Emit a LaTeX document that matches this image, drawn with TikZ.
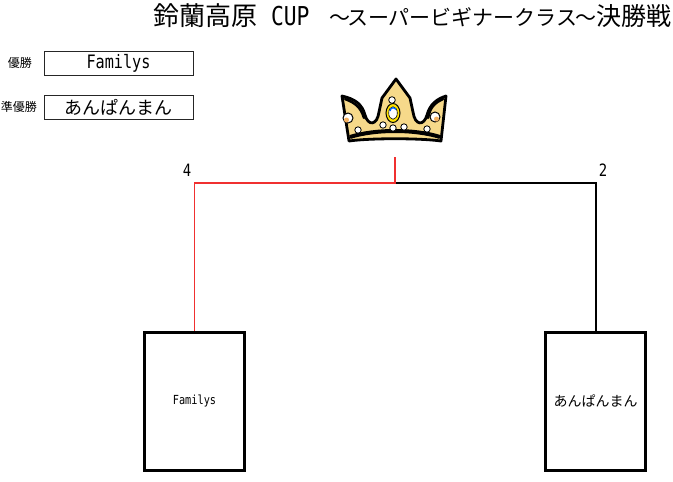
\documentclass[tikz,border=0pt]{standalone}
\usepackage{fontspec}
\newfontfamily\cjk{Noto Sans CJK JP}
\newfontfamily\gmono[FakeStretch=0.82]{DejaVu Sans Mono}
\definecolor{crownY}{HTML}{F6D98A}
\definecolor{jewelO}{HTML}{F4B060}
\definecolor{redline}{HTML}{F03030}
\tikzset{
  txt/.style={inner sep=0pt, outer sep=0pt},
  topbox/.style={draw=black!85, line width=1pt, minimum width=149pt, minimum height=24pt, inner sep=0pt},
  teambox/.style={draw=black, line width=3pt, minimum width=100pt, minimum height=138pt, inner sep=0pt},
  jewel/.style={fill=white, draw=black, line width=0.8pt},
  blackline/.style={draw=black, line width=2pt},
  redconn/.style={draw=redline, line width=1.4pt}
}
\begin{document}
\begin{tikzpicture}[x=1pt,y=-1pt]
\useasboundingbox (0,0) rectangle (673,482);
% title
\node[txt, anchor=base west, font=\cjk\fontsize{26}{26}\selectfont] (t1) at (153,25) {鈴蘭高原};
\node[txt, anchor=base west, font=\gmono\fontsize{26}{26}\selectfont] (t2) at (271,25) {CUP};
\node[txt, anchor=base west, font=\cjk\fontsize{21}{21}\selectfont] (t3) at (329,25) {～};
\node[txt, anchor=base west, font=\cjk\fontsize{21}{21}\selectfont] (t4) at (347,25) {スーパービギナークラス};
\node[txt, anchor=base west, font=\cjk\fontsize{21}{21}\selectfont] (t5) at (575,25) {～};
\node[txt, anchor=base west, font=\cjk\fontsize{25}{25}\selectfont] (t6) at (596,25) {決勝戦};
% result boxes
\node[txt, font=\cjk\fontsize{12}{12}\selectfont] (l1) at (20,63) {優勝};
\node[txt, font=\cjk\fontsize{12}{12}\selectfont] (l2) at (19,107) {準優勝};
\node[topbox, font=\gmono\fontsize{18.5}{18.5}\selectfont] (win) at (118.5,63) {Familys};
\node[topbox, font=\cjk\fontsize{18}{18}\selectfont] (run) at (118.5,107) {あんぱんまん};
% team boxes
\node[teambox, font=\gmono\fontsize{12.5}{12.5}\selectfont] (ta) at (194.5,401) {Familys};
\node[teambox, font=\cjk\fontsize{14}{14}\selectfont] (tb) at (595.5,401) {あんぱんまん};
% scores
\node[txt, font=\gmono\fontsize{17}{17}\selectfont] (sa) at (187,170) {4};
\node[txt, font=\gmono\fontsize{17}{17}\selectfont] (sb) at (603,170) {2};
% connectors
\coordinate (top) at (395,157);
\coordinate (mid) at (395,183);
\draw[blackline] (mid) -| (tb.north);
\draw[redconn] (top) -- (mid) -| (ta.north);
% crown
\filldraw[fill=crownY, draw=black, line width=2.8pt, line join=round]
  (342,96) .. controls (355,99) and (362,104) .. (365,115)
  .. controls (368,126) and (377,126) .. (379,112) -- (382,98) -- (396,79) -- (410,98) -- (413,112)
  .. controls (415,126) and (424,126) .. (427,115)
  .. controls (430,104) and (437,99) .. (446,96)
  -- (441,141) .. controls (420,138) and (370,138) .. (349,141) -- cycle;
\draw[line width=2.5pt, line cap=round] (345,99) .. controls (356,103) and (361,108) .. (364,118);
\draw[line width=2.5pt, line cap=round] (443,99) .. controls (434,103) and (430,108) .. (428,118);
\draw[line width=4pt] (350,137) .. controls (375,129) and (415,129) .. (440,137);
\filldraw[jewel] (392,100) circle (3.3);
\filldraw[jewel] (383,125) circle (3.2);
\filldraw[jewel] (393,128) circle (3.2);
\filldraw[jewel] (404,127) circle (3.2);
\filldraw[jewel] (358,130) circle (3.2);
\filldraw[jewel] (427,129) circle (3.2);
\filldraw[fill=white, draw=black, line width=1pt] (348,118) circle (5);
\fill[jewelO] (346.5,120) circle (2.5);
\filldraw[fill=white, draw=black, line width=1pt] (435,117) circle (5);
\fill[jewelO] (436.5,119) circle (2.5);
\filldraw[fill=yellow!85!orange, draw=black, line width=1pt] (393,113) ellipse (7 and 9.5);
\filldraw[fill=white, draw=black, line width=0.6pt] (393,113) ellipse (4.3 and 6.3);
\draw[blue!60!cyan, line width=1.3pt] (390,111) arc (180:330:3.3);
\end{tikzpicture}
\end{document}
